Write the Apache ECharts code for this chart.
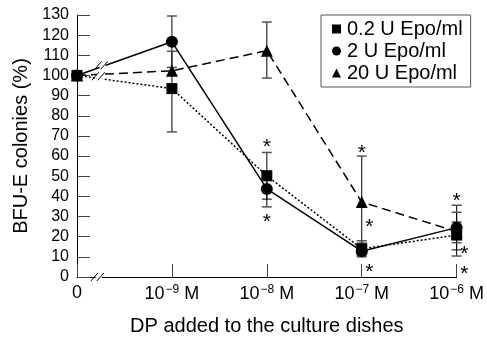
<!DOCTYPE html>
<html>
<head>
<meta charset="utf-8">
<script src="https://cdn.jsdelivr.net/npm/echarts@6/dist/echarts.min.js"></script>
<style>
html, body { margin: 0; padding: 0; background: #fff; }
#chartmain { width: 487px; height: 341px; }
</style>
</head>
<body>
<div id="chartmain"></div>
<script>
// x positions: 0 = no DP, 1..4 = 10^-9 .. 10^-6 M
var xLabels = ['0', '−9', '−8', '−7', '−6'];
var xPos = [0, 1, 2, 3, 4];
var yTicks = [0, 130, 10];

var seriesNames = ['0.2 U Epo/ml', '2 U Epo/ml', '20 U Epo/ml'];
var epo02 = [100, 93.5, 50.2, 14, 20.8];
var epo2 = [100, 116.7, 43.7, 12.8, 24.5];
var epo20 = [100, 102.3, 112.3, 37.2, 22.5];

// [x, low, high]
var errBars = [
	[1, 104, 129.5], [1, 72, 112],
	[2, 98.7, 126.5], [2, 38.6, 61.8], [2, 34.8, 52.6],
	[3, 14.6, 60], [3, 10, 18], [3, 10.5, 16.8],
	[4, 13.5, 35.6], [4, 10.4, 32.1], [4, 17, 27.3]
];

// significance marks [x, y]
var stars = [
	[2, 66.9], [2, 29.9],
	[3, 63.7], [3.08, 27], [3.08, 4.8],
	[4, 40.1], [4.08, 14], [4.08, 4]
];

// axis / line breaks [x, y]
var breaks = [[0.27, 105], [0.24, 99.6], [0.23, 0]];

var font = 'Liberation Sans, Arial, sans-serif';

function pts(arr) {
	return arr.map(function(v, i) { return [xPos[i], v]; });
}

var option = {
	animation : false,
	textStyle : { fontFamily : font, color : '#000' },
	grid : { left : 77, right : 27, top : 15, bottom : 56 },
	legend : {
		orient : 'vertical',
		left : 321,
		top : 15,
		padding : [4, 8, 4, 11],
		itemGap : 2,
		itemWidth : 9,
		itemHeight : 9,
		borderColor : '#555',
		borderWidth : 1,
		textStyle : { fontSize : 20, fontFamily : font, color : '#000', padding : [0, 0, 0, 1] },
		data : [
			{ name : seriesNames[0], icon : 'rect' },
			{ name : seriesNames[1], icon : 'circle' },
			{ name : seriesNames[2], icon : 'triangle' }
		]
	},
	xAxis : {
		type : 'value',
		min : 0, max : 4, interval : 1,
		name : 'DP added to the culture dishes',
		nameLocation : 'middle',
		nameGap : 39,
		nameTextStyle : { fontSize : 20, fontFamily : font, color : '#000' },
		splitLine : { show : false },
		axisLine : { lineStyle : { color : '#000', width : 1 } },
		axisTick : { inside : true, length : 13, lineStyle : { color : '#444' } },
		axisLabel : {
			margin : 7,
			color : '#000',
			fontSize : 18,
			fontFamily : font,
			formatter : function(v) {
				var i = xPos.indexOf(v);
				if (i === 0) return '{a|0}';
				return '{a|10}{s|' + xLabels[i] + '}{a| M}';
			},
			rich : {
				a : { fontSize : 18, fontFamily : font, color : '#000' },
				s : { fontSize : 12, fontFamily : font, color : '#000', padding : [0, 0, 9, 1] }
			}
		}
	},
	yAxis : {
		type : 'value',
		min : yTicks[0], max : yTicks[1], interval : yTicks[2],
		name : 'BFU-E colonies (%)',
		nameLocation : 'middle',
		nameGap : 42,
		nameTextStyle : { fontSize : 20, fontFamily : font, color : '#000' },
		splitLine : { show : false },
		axisLine : { show : true, lineStyle : { color : '#000', width : 1 } },
		axisTick : { inside : true, length : 13, lineStyle : { color : '#444' } },
		axisLabel : { margin : 8, color : '#000', fontSize : 16, fontFamily : font }
	},
	series : [ {
		name : 'err',
		type : 'custom',
		z : 1,
		silent : true,
		data : errBars,
		renderItem : function(params, api) {
			var x = api.value(0);
			var lo = api.coord([x, api.value(1)]);
			var hi = api.coord([x, api.value(2)]);
			var w = 5;
			var st = { stroke : '#000', lineWidth : 1 };
			var cap = { stroke : '#555', lineWidth : 1.5 };
			return {
				type : 'group',
				children : [
					{ type : 'line', shape : { x1 : lo[0], y1 : lo[1], x2 : hi[0], y2 : hi[1] }, style : st },
					{ type : 'line', shape : { x1 : lo[0] - w, y1 : lo[1], x2 : lo[0] + w, y2 : lo[1] }, style : cap },
					{ type : 'line', shape : { x1 : hi[0] - w, y1 : hi[1], x2 : hi[0] + w, y2 : hi[1] }, style : cap }
				]
			};
		}
	}, {
		name : seriesNames[0],
		type : 'line',
		z : 3,
		data : pts(epo02),
		symbol : 'rect',
		symbolSize : 11,
		itemStyle : { color : '#000' },
		lineStyle : { color : '#000', width : 1.5, type : [2, 2] }
	}, {
		name : seriesNames[1],
		type : 'line',
		z : 3,
		data : pts(epo2),
		symbol : 'circle',
		symbolSize : 12,
		itemStyle : { color : '#000' },
		lineStyle : { color : '#000', width : 1.5, type : 'solid' }
	}, {
		name : seriesNames[2],
		type : 'line',
		z : 3,
		data : pts(epo20),
		symbol : 'triangle',
		symbolSize : 12,
		itemStyle : { color : '#000' },
		lineStyle : { color : '#000', width : 1.5, type : [9, 5] }
	}, {
		name : 'breaks',
		type : 'custom',
		z : 5,
		silent : true,
		data : breaks,
		renderItem : function(params, api) {
			var c = api.coord([api.value(0), api.value(1)]);
			var st = { stroke : '#000', lineWidth : 1 };
			return {
				type : 'group',
				children : [
					{ type : 'rect', shape : { x : c[0] - 3, y : c[1] - 5, width : 6, height : 10 }, style : { fill : '#fff' } },
					{ type : 'line', shape : { x1 : c[0] - 8, y1 : c[1] + 4, x2 : c[0] - 1, y2 : c[1] - 4 }, style : st },
					{ type : 'line', shape : { x1 : c[0] - 2, y1 : c[1] + 4, x2 : c[0] + 5, y2 : c[1] - 4 }, style : st }
				]
			};
		}
	}, {
		name : 'stars',
		type : 'custom',
		z : 4,
		silent : true,
		clip : false,
		data : stars,
		renderItem : function(params, api) {
			var c = api.coord([api.value(0), api.value(1)]);
			return {
				type : 'text',
				x : c[0],
				y : c[1] + 5,
				style : {
					text : '*',
					fontSize : 21,
					fontFamily : font,
					fill : '#000',
					align : 'center',
					verticalAlign : 'middle'
				}
			};
		}
	} ]
};

var myChart = echarts.init(document.getElementById('chartmain'));
myChart.setOption(option);
</script>
</body>
</html>
